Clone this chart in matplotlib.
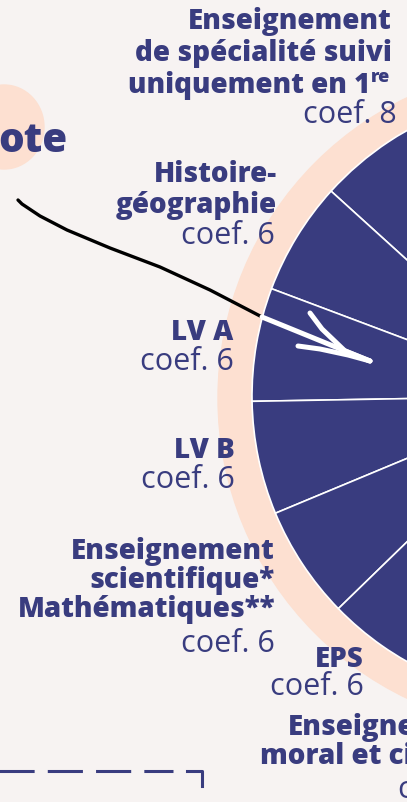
import numpy as np
import matplotlib.pyplot as plt
from matplotlib.patches import Circle, Ellipse

# ---------------------------------------------------------------
# Data : coefficients du baccalauréat (part visible du graphique)
# ---------------------------------------------------------------
subjects = ["Spécialité 1re", "Histoire-géographie", "LV A", "LV B",
            "Enseignement scientifique", "EPS", "EMC", "Autres"]
coefs = [8, 6, 6, 6, 6, 6, 2, 60]

NAVY = "#393c7f"
PEACH = "#fde0d1"
BG = "#f7f3f2"

W, H = 407, 803


def Y(y):
    # pixel row (from top) -> data coordinate
    return H - y


fig = plt.figure(figsize=(W / 100, H / 100), dpi=100, facecolor=BG)
ax = fig.add_axes([0, 0, 1, 1])

# ---------------------------------------------------------------
# Halo and pie
# ---------------------------------------------------------------
cx, cy, r = 557, Y(397), 305
ax.add_patch(Circle((cx - 6, cy - 2), r + 28, color=PEACH, zorder=1))
ax.add_patch(Ellipse((4, Y(128)), 80, 84, color=PEACH, zorder=1))

ax.pie(coefs, startangle=109, counterclock=True, center=(cx, cy),
       radius=r, colors=[NAVY] * len(coefs),
       wedgeprops=dict(edgecolor="white", linewidth=1.2, zorder=2),
       frame=True)
ax.set_xlim(0, W)
ax.set_ylim(0, H)
ax.set_aspect("equal")
ax.axis("off")

# ---------------------------------------------------------------
# Labels
# ---------------------------------------------------------------
FB = dict(family="Open Sans", fontweight=800, color=NAVY, ha="right",
          va="center", fontsize=20, zorder=5)
FR = dict(family="Open Sans", color=NAVY, ha="right", va="center",
          fontsize=22, zorder=5)

ax.text(392, Y(22), "Enseignement", **FB)
ax.text(392, Y(54), "de spécialité suivi", **FB)
ax.text(370, Y(85), "uniquement en 1", **FB)
ax.text(371, Y(78), "re", family="Open Sans", fontweight=800,
        color=NAVY, ha="left", va="center", fontsize=13, zorder=5)
ax.text(397, Y(115), "coef. 8", **FR)

ax.text(277, Y(174), "Histoire-", **FB)
ax.text(277, Y(205), "géographie", **FB)
ax.text(275, Y(236), "coef. 6", **FR)

ax.text(233, Y(333), "LV A", **FB)
ax.text(234, Y(362), "coef. 6", **FR)

ax.text(235, Y(451), "LV B", **FB)
ax.text(235, Y(480), "coef. 6", **FR)

ax.text(275, Y(552), "Enseignement", **FB)
ax.text(275, Y(581), "scientifique*", **FB)
ax.text(275, Y(610), "Mathématiques**", **FB)
ax.text(275, Y(644), "coef. 6", **FR)

ax.text(364, Y(660), "EPS", **FB)
ax.text(364, Y(687), "coef. 6", **FR)

ax.text(492, Y(728), "Enseignement", **FB)
ax.text(492, Y(757), "moral et civique", **FB)
ax.text(492, Y(790), "coef. 2", **FR)

ax.text(-2, Y(142), "ote", family="Open Sans", fontweight=800,
        color=NAVY, ha="left", va="center", fontsize=29, zorder=5)

# ---------------------------------------------------------------
# Hand-drawn arrow
# ---------------------------------------------------------------
bx = [18, 22, 40, 67, 110, 160, 210, 262]
by = [201, 205, 217, 231, 249, 268, 291, 318]
ax.plot(bx, [Y(v) for v in by], color="black", lw=2.4,
        solid_capstyle="round", zorder=4)
ax.plot([262, 370], [Y(318), Y(362)], color="white", lw=3.6,
        solid_capstyle="round", zorder=4)
ax.plot([310, 322, 345, 370], [Y(314), Y(330), Y(352), Y(362)],
        color="white", lw=3.6, solid_capstyle="round", zorder=4)
ax.plot([298, 320, 348, 370], [Y(347), Y(350), Y(356), Y(362)],
        color="white", lw=3.6, solid_capstyle="round", zorder=4)

# ---------------------------------------------------------------
# Dashed frame corner
# ---------------------------------------------------------------
ax.plot([-7, 173], [Y(772), Y(772)], color=NAVY, lw=2.2,
        dashes=(11.5, 4.3), zorder=4)
ax.plot([187, 202, 202], [Y(772), Y(772), Y(787)], color=NAVY, lw=2.2,
        zorder=4)

fig.savefig("out.png", dpi=100, facecolor=BG)
